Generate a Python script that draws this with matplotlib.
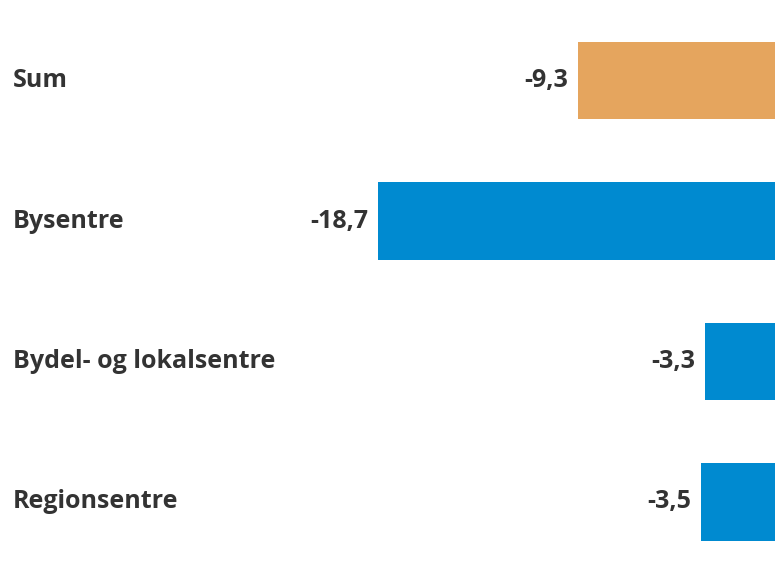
import matplotlib
matplotlib.use("Agg")
import matplotlib.pyplot as plt

categories = ["Sum", "Bysentre", "Bydel- og lokalsentre", "Regionsentre"]
values = [-9.3, -18.7, -3.3, -3.5]
colors = ["#E5A55E", "#008AD0", "#008AD0", "#008AD0"]

TEXT_COLOR = "#333333"

plt.rcParams['font.family'] = ['Open Sans', 'DejaVu Sans']

fig = plt.figure(figsize=(7.75, 5.7), dpi=100)
ax = fig.add_axes([0, 0, 1, 1])

y = list(range(len(categories)))
ax.barh(y, values, height=0.555, color=colors)

# 0 sits at the right edge, 18.7 spans ~397 px
ax.set_xlim(-36.5, 0)
ax.set_ylim(3.484, -0.573)
ax.axis('off')

for i, (cat, v) in enumerate(zip(categories, values)):
    ax.text(13 / 775, i, cat, transform=ax.get_yaxis_transform(),
            ha='left', va='center', fontsize=18, fontweight='bold',
            color=TEXT_COLOR)
    label = f"{v:.1f}".replace('.', ',')
    ax.annotate(label, xy=(v, i), xytext=(-7, 0), textcoords='offset points',
                ha='right', va='center', fontsize=18, fontweight='bold',
                color=TEXT_COLOR)

fig.savefig("out.png", dpi=100)
